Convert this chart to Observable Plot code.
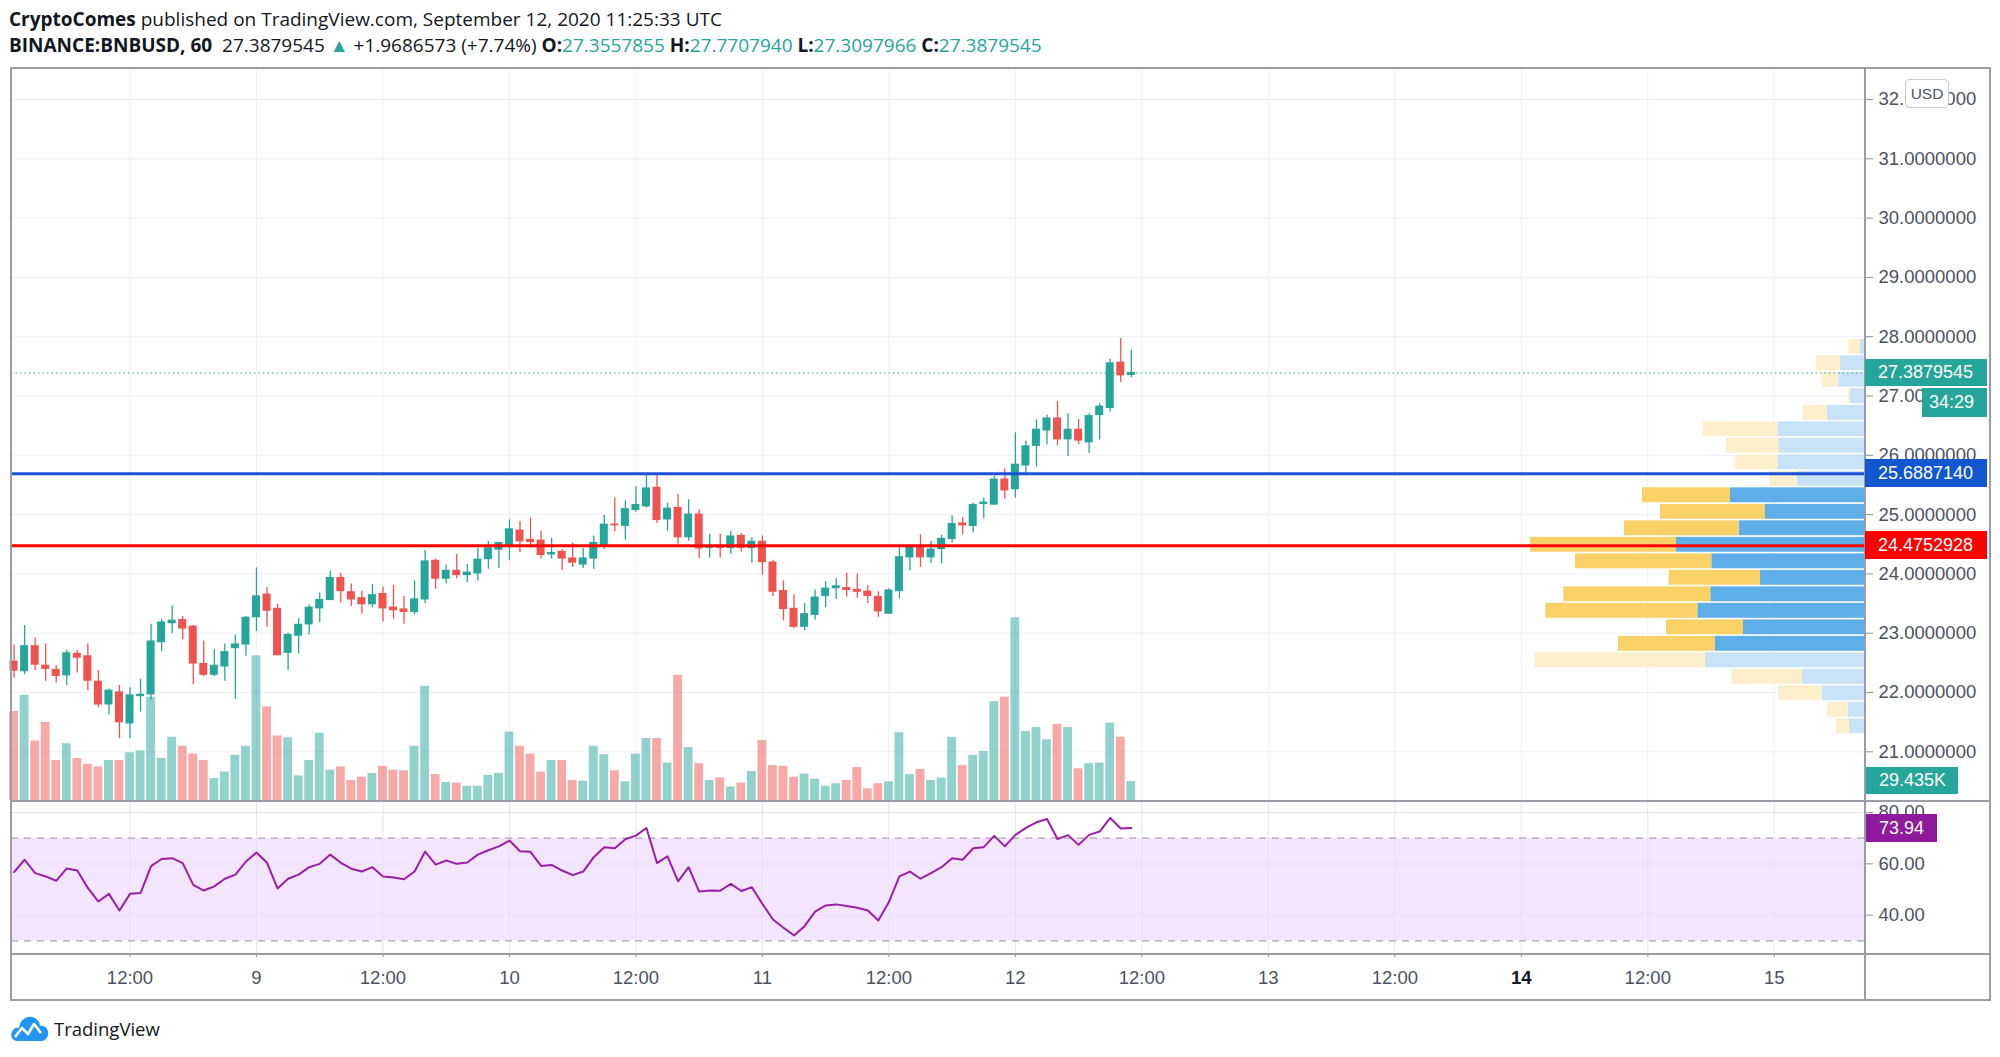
<!DOCTYPE html>
<html><head><meta charset="utf-8">
<script src="https://cdn.jsdelivr.net/npm/d3@7"></script>
<script src="https://cdn.jsdelivr.net/npm/@observablehq/plot@0.6"></script>
<style>
body{margin:0;background:#fff;}
#wrap{position:relative;width:2000px;height:1057px;overflow:hidden;font-family:"Liberation Sans",Arial,sans-serif;}
.hdr{position:absolute;left:9px;white-space:nowrap;color:#131722;font-family:"Open Sans",sans-serif;font-size:19px;line-height:26px;}
.hdr .g{color:#26a69a}
.lbl{position:absolute;color:#fff;font-size:18px;box-sizing:border-box;padding-left:13px;white-space:nowrap;}
.bd{position:absolute;background:#9a9da6;}
g[aria-label="y-axis tick"], g[aria-label="x-axis tick"]{stroke:#8e919a;}
</style></head><body><div id="wrap"></div>
<script>
// ---------- DATA (hourly candles, BINANCE:BNBUSD, first candle Sep 8 2020 01:00 UTC) ----------
const firstCandle = "2020-09-08T01:00:00Z";
const opens = [22.52,22.36,22.78,22.45,22.38,22.29,22.65,22.61,22.18,21.80,
22.00,21.48,21.94,21.97,22.85,23.17,23.22,23.11,22.48,22.30,
22.44,22.75,22.81,23.27,23.65,23.41,22.67,22.96,23.15,23.42,
23.56,23.93,23.69,23.59,23.49,23.66,23.43,23.40,23.36,23.57,
24.22,23.92,24.05,23.98,24.01,24.25,24.41,24.47,24.73,24.57,
24.56,24.33,24.37,24.26,24.16,24.26,24.49,24.83,24.81,25.08,
25.14,25.45,24.92,25.11,24.62,25.00,24.44,24.46,24.44,24.64,
24.44,24.54,24.19,23.71,23.41,23.11,23.31,23.63,23.76,23.76,
23.73,23.70,23.61,23.33,23.71,24.28,24.44,24.28,24.42,24.59,
24.85,24.81,25.18,25.17,25.59,25.43,25.83,26.16,26.42,26.62,
26.27,26.43,26.22,26.68,26.80,27.56,27.3557855];
const highs = [22.80,23.13,22.92,22.82,22.45,22.71,22.71,22.82,22.37,22.06,
22.12,22.08,22.22,23.15,23.23,23.46,23.28,23.13,22.87,22.72,
22.82,22.97,23.28,24.10,23.77,23.49,23.00,23.25,23.48,23.68,
24.05,24.01,23.83,23.71,23.82,23.78,23.81,23.62,23.88,24.40,
24.25,24.15,24.33,24.16,24.43,24.55,24.53,24.91,24.89,24.94,
24.72,24.60,24.41,24.52,24.43,24.64,24.99,25.28,25.23,25.47,
25.68,25.66,25.19,25.34,25.25,25.08,24.67,24.67,24.72,24.68,
24.61,24.64,24.23,23.88,23.65,23.50,23.73,23.87,23.92,24.01,
24.00,23.80,23.70,23.75,24.50,24.46,24.66,24.55,24.65,24.98,
24.95,25.19,25.28,25.65,25.77,26.38,26.24,26.60,26.68,26.91,
26.70,26.60,26.70,26.87,27.62,27.97,27.7707940];
const lows = [22.24,22.30,22.37,22.19,22.16,22.12,22.33,22.03,21.75,21.62,
21.22,21.22,21.67,21.87,22.69,22.99,22.89,22.13,22.27,22.27,
22.19,21.88,22.61,23.03,23.10,22.62,22.37,22.65,22.97,23.18,
23.55,23.51,23.45,23.32,23.43,23.19,23.24,23.15,23.31,23.50,
23.74,23.83,23.92,23.85,23.88,24.08,24.09,24.22,24.36,24.43,
24.25,24.25,24.06,24.11,24.09,24.08,24.41,24.71,24.57,25.04,
25.11,24.85,24.72,24.50,24.55,24.26,24.27,24.27,24.33,24.37,
24.18,23.98,23.62,23.21,23.08,23.04,23.22,23.43,23.57,23.61,
23.59,23.50,23.27,23.32,23.58,24.05,24.11,24.18,24.17,24.52,
24.66,24.69,24.93,25.16,25.26,25.28,25.65,25.80,26.18,26.16,
25.98,26.18,26.03,26.26,26.73,27.23,27.3097966];
const closes = [22.37,22.78,22.47,22.40,22.28,22.66,22.59,22.20,21.80,22.03,
21.50,21.95,21.96,22.86,23.18,23.21,23.08,22.49,22.30,22.45,
22.68,22.81,23.26,23.62,23.38,22.63,22.97,23.14,23.43,23.56,
23.93,23.71,23.57,23.49,23.64,23.42,23.39,23.36,23.57,24.21,
23.92,24.05,23.98,24.02,24.24,24.43,24.52,24.75,24.55,24.54,
24.32,24.35,24.26,24.19,24.26,24.52,24.83,24.82,25.09,25.16,
25.44,24.91,25.10,24.62,25.00,24.43,24.46,24.44,24.63,24.44,
24.54,24.20,23.70,23.41,23.11,23.32,23.60,23.75,23.79,23.73,
23.70,23.63,23.37,23.72,24.28,24.44,24.28,24.41,24.59,24.84,
24.82,25.16,25.20,25.59,25.41,25.84,26.15,26.43,26.62,26.27,
26.43,26.25,26.66,26.82,27.55,27.35,27.3879545];
// volume in thousands
const volumes = [138,163,92,121,62,88,65,56,52,62,
62,74,77,160,65,98,84,72,62,34,
44,70,84,224,145,100,97,38,62,104,
47,52,31,36,42,53,47,46,84,177,
40,28,27,22,22,39,42,106,84,72,
44,62,62,31,30,84,71,46,29,72,
96,96,58,194,82,57,31,35,21,27,
45,93,54,53,36,41,33,22,26,31,
51,18,26,29,105,40,48,31,35,98,
54,70,76,153,160,283,107,113,94,118,
113,49,57,58,120,98,29.435];
const rsiValues = [56.8,61.6,56.4,55.1,53.4,58.2,57.4,50.6,45.3,48.3,
41.8,48.3,48.6,59.1,61.9,62.2,60.3,51.8,49.6,51.2,
54.2,55.8,60.9,64.4,60.4,50.4,54.2,55.8,58.7,60.0,
63.6,60.4,58.1,57.0,58.7,55.1,54.7,54.0,57.0,64.8,
59.7,61.3,60.0,60.5,63.6,65.3,66.8,69.1,64.9,64.7,
59.2,59.6,57.4,55.6,57.0,62.6,66.5,66.1,69.6,71.0,
74.0,60.3,62.9,53.2,58.7,49.2,49.6,49.5,52.2,49.4,
50.9,44.4,38.3,35.1,32.1,35.7,41.4,43.8,44.2,43.6,
42.9,41.8,37.9,45.1,55.1,57.0,54.2,56.4,58.7,62.2,
61.6,66.1,66.5,70.9,66.8,71.3,74.0,76.2,77.5,69.7,
71.2,67.4,71.3,72.6,77.9,73.8,73.94];
// visible-range volume profile, 24 rows from bottom to top (up = buy, down = sell, relative units)
const profileRange = [21.29, 27.97];
const profileUp = [16,17.3,43.3,63,160,150,122,167.7,154.7,105,153.7,189,126.3,100,135,68.3,87.7,86.7,87.7,38.3,15,26.7,25,5];
const profileDown = [13,20.7,43.7,70.7,170.3,97,77,152,147,91.3,136.3,146,114.7,105,88,27.7,42,52.3,74.3,24.3,1.7,16.7,24,11.7];
const valueAreaRows = [5, 14];
// horizontal lines and labels
const currentPrice = 27.3879545;
const bluePrice = 25.6887140;
const redPrice = 24.4752928;
const priceTicks = [21,22,23,24,25,26,27,28,29,30,31,32];
const rsiTicks = [40,60,80];
const rsiBands = [30,70];
const lastVolumeLabel = "29.435K";
const countdown = "34:29";

// ---------- LAYOUT ----------
const W = 2000, ML = 11, MR = 135, HOUR = 3600e3;
const T0 = Date.UTC(2020, 8, 8, 12);
const xDomain = [new Date(T0 - 11.243 * HOUR), new Date(T0 + 164.658 * HOUR)];
const priceDomain = [20.179, 32.523];
const rsiDomain = [25.05, 84.31];
const start = new Date(firstCandle).getTime();
const candles = opens.map((o, i) => ({
  t: new Date(start + i * HOUR), o, h: highs[i], l: lows[i], c: closes[i], v: volumes[i], r: rsiValues[i],
  up: closes[i] >= o
}));
const gridTimes = d3.utcHour.every(12).range(new Date(T0), new Date(T0 + 157 * HOUR));
const nRows = profileUp.length, step = (profileRange[1] - profileRange[0]) / nRows;
const profile = profileUp.map((u, k) => ({
  lo: profileRange[0] + k * step, hi: profileRange[0] + (k + 1) * step, up: u, down: profileDown[k],
  va: k >= valueAreaRows[0] && k <= valueAreaRows[1]
}));

const GREEN = "#26a69a", RED = "#ef5350", GRID = "#eef1f7";
const wrap = document.getElementById("wrap");
function put(node, top) { node.style.position = "absolute"; node.style.left = "0px"; node.style.top = top + "px"; wrap.appendChild(node); return node; }
const style = {background: "transparent", overflow: "visible", fontFamily: "Liberation Sans, Arial, sans-serif", fontSize: "18.5px", color: "#4c525e"};
const base = (h) => ({width: W, height: h, marginLeft: ML, marginRight: MR, marginTop: 0, marginBottom: 0, style});

// header
const h1 = document.createElement("div"); h1.className = "hdr"; h1.style.top = "6px";
h1.innerHTML = '<b>CryptoComes</b> published on TradingView.com, September 12, 2020 11:25:33 UTC';
wrap.appendChild(h1);
const h2 = document.createElement("div"); h2.className = "hdr"; h2.style.top = "32px";
h2.innerHTML = '<b>BINANCE:BNBUSD, 60</b>&nbsp; 27.3879545 <span class="g">▲</span> +1.9686573 (+7.74%) <b>O:</b><span class="g">27.3557855</span> <b>H:</b><span class="g">27.7707940</span> <b>L:</b><span class="g">27.3097966</span> <b>C:</b><span class="g">27.3879545</span>';
wrap.appendChild(h2);

// main pane: grid + price axis
const plotA = Plot.plot({...base(732),
  x: {type: "utc", domain: xDomain, axis: null},
  y: {domain: priceDomain, axis: null},
  marks: [
    Plot.gridX(gridTimes, {stroke: GRID, strokeOpacity: 1}),
    Plot.gridY(priceTicks, {stroke: GRID, strokeOpacity: 1}),
    Plot.axisY(priceTicks, {anchor: "right", label: null, tickSize: 7, tickPadding: 6, tickFormat: d => d.toFixed(7)})
  ]});
put(plotA, 68);

// volume
const plotB = Plot.plot({...base(732),
  x: {type: "utc", domain: xDomain, axis: null},
  y: {domain: [0, 1134], axis: null},
  color: {type: "identity"},
  marks: [
    Plot.rectY(candles, {x1: d => new Date(+d.t - 0.42 * HOUR), x2: d => new Date(+d.t + 0.42 * HOUR), y: "v",
      fill: d => d.up ? "rgba(38,166,154,0.5)" : "rgba(239,83,80,0.5)"})
  ]});
put(plotB, 68);

// volume profile
const plotD = Plot.plot({...base(732),
  x: {domain: [0, 1854], reverse: true, axis: null},
  y: {domain: priceDomain, axis: null},
  color: {type: "identity"},
  marks: [
    Plot.rect(profile, {x1: () => 0, x2: "up", y1: "lo", y2: "hi", insetTop: 0.8, insetBottom: 0.8,
      fill: d => d.va ? "#5eaeea" : "#c8e3f7"}),
    Plot.rect(profile, {x1: "up", x2: d => d.up + d.down, y1: "lo", y2: "hi", insetTop: 0.8, insetBottom: 0.8,
      fill: d => d.va ? "#f9d166" : "#fdefcb"})
  ]});
put(plotD, 68);

// candles + horizontal lines
const plotC = Plot.plot({...base(732),
  x: {type: "utc", domain: xDomain, axis: null},
  y: {domain: priceDomain, axis: null},
  color: {type: "identity"},
  marks: [
    Plot.ruleY([currentPrice], {stroke: GREEN, strokeDasharray: "1.5,3", strokeWidth: 1.2}),
    Plot.ruleX(candles, {x: "t", y1: "l", y2: "h", stroke: d => d.up ? GREEN : RED, strokeWidth: 1.3}),
    Plot.rect(candles, {x1: d => new Date(+d.t - 0.38 * HOUR), x2: d => new Date(+d.t + 0.38 * HOUR), y1: "o", y2: "c",
      insetTop: -0.6, insetBottom: -0.6, fill: d => d.up ? GREEN : RED}),
    Plot.ruleY([bluePrice], {stroke: "#1c52d6", strokeWidth: 3}),
    Plot.ruleY([redPrice], {stroke: "#ff0000", strokeWidth: 3})
  ]});
put(plotC, 68);

// RSI pane + time axis
const plotE = Plot.plot({width: W, height: 199, marginLeft: ML, marginRight: MR, marginTop: 0, marginBottom: 47, style,
  x: {type: "utc", domain: xDomain, axis: null},
  y: {domain: rsiDomain, axis: null},
  marks: [
    Plot.rect([rsiBands], {x1: () => xDomain[0], x2: () => xDomain[1], y1: d => d[0], y2: d => d[1], fill: "#f3e5fc"}),
    Plot.gridX(gridTimes, {stroke: "#e6e3f2", strokeOpacity: 1}),
    Plot.gridY(rsiTicks, {stroke: "#e6e0f2", strokeOpacity: 1}),
    Plot.ruleY(rsiBands, {stroke: "#aaa6b0", strokeDasharray: "7,6", strokeWidth: 1.3}),
    Plot.lineY(candles, {x: "t", y: "r", stroke: "#9a1fa8", strokeWidth: 2}),
    Plot.axisY(rsiTicks, {anchor: "right", label: null, tickSize: 7, tickPadding: 6, tickFormat: d => d.toFixed(2)}),
    Plot.axisX(gridTimes.filter(d => !(d.getUTCDate() === 14 && d.getUTCHours() === 0)), {anchor: "bottom", label: null, tickSize: 4, tickPadding: 13,
      tickFormat: d => d.getUTCHours() === 12 ? "12:00" : String(d.getUTCDate())}),
    Plot.axisX(gridTimes.filter(d => d.getUTCDate() === 14 && d.getUTCHours() === 0), {anchor: "bottom", label: null, tickSize: 4, tickPadding: 13,
      fontWeight: "bold", fill: "#131722", tickFormat: d => String(d.getUTCDate())})
  ]});
put(plotE, 801);

// pane borders
function bd(l, t, w, h) { const d = document.createElement("div"); d.className = "bd"; Object.assign(d.style, {left: l + "px", top: t + "px", width: w + "px", height: h + "px"}); wrap.appendChild(d); }
bd(10, 67, 1981, 2); bd(10, 999, 1981, 2); bd(10, 67, 2, 934); bd(1989, 67, 2, 934);
bd(1864, 67, 2, 934); bd(10, 799.5, 1981, 2); bd(10, 953, 1981, 2);

// right-side labels (positions via the plots' scales)
const yP = plotC.scale("y"), yV = plotB.scale("y"), yR = plotE.scale("y");
function label(text, cy, h, left, width, bg) {
  const d = document.createElement("div"); d.className = "lbl"; d.textContent = text;
  Object.assign(d.style, {left: left + "px", top: (cy - h / 2) + "px", width: width + "px", height: h + "px", lineHeight: h + "px", background: bg});
  wrap.appendChild(d); return d;
}
label(currentPrice.toFixed(7), 68 + yP.apply(currentPrice), 27, 1865, 122, GREEN);
const cd = label(countdown, 68 + yP.apply(currentPrice) + 30, 29, 1922, 65, GREEN); cd.style.paddingLeft = "7px";
label(bluePrice.toFixed(7), 68 + yP.apply(bluePrice), 28, 1865, 122, "#1256d0");
label(redPrice.toFixed(7), 68 + yP.apply(redPrice), 28, 1865, 122, "#ff0000");
label(lastVolumeLabel, 68 + yV.apply(volumes[volumes.length - 1]), 27, 1866, 92, GREEN);
label(rsiValues[rsiValues.length - 1].toFixed(2), 801 + yR.apply(rsiValues[rsiValues.length - 1]), 28, 1866, 71, "#8e1a9c");

// USD badge
const usd = document.createElement("div"); usd.textContent = "USD";
Object.assign(usd.style, {position: "absolute", left: "1905px", top: "79px", width: "44px", height: "29px", lineHeight: "27px", textAlign: "center",
  border: "1px solid #c9cbd1", borderRadius: "5px", background: "#fff", color: "#50535e", fontSize: "15.5px", boxSizing: "border-box"});
wrap.appendChild(usd);

// TradingView logo
const logo = document.createElement("div");
Object.assign(logo.style, {position: "absolute", left: "10px", top: "1013px", height: "30px", display: "flex", alignItems: "center", gap: "4px"});
logo.innerHTML = '<svg width="40" height="28" viewBox="0 0 40 28"><path d="M8 27 C2 27 0 22 2 18 C3 14 7 13 9 14 C10 6 16 2 22 3 C27 4 30 8 30 12 C35 11 39 15 38 21 C37 25 34 27 31 27 Z" fill="#2196f3"/><polyline points="5,23 12,14 18,20 24,10 31,19" fill="none" stroke="#fff" stroke-width="2.6" stroke-linejoin="round"/></svg><span style="font-family:\'Open Sans\',sans-serif;font-size:18.5px;color:#131722">TradingView</span>';
wrap.appendChild(logo);
</script></body></html>
